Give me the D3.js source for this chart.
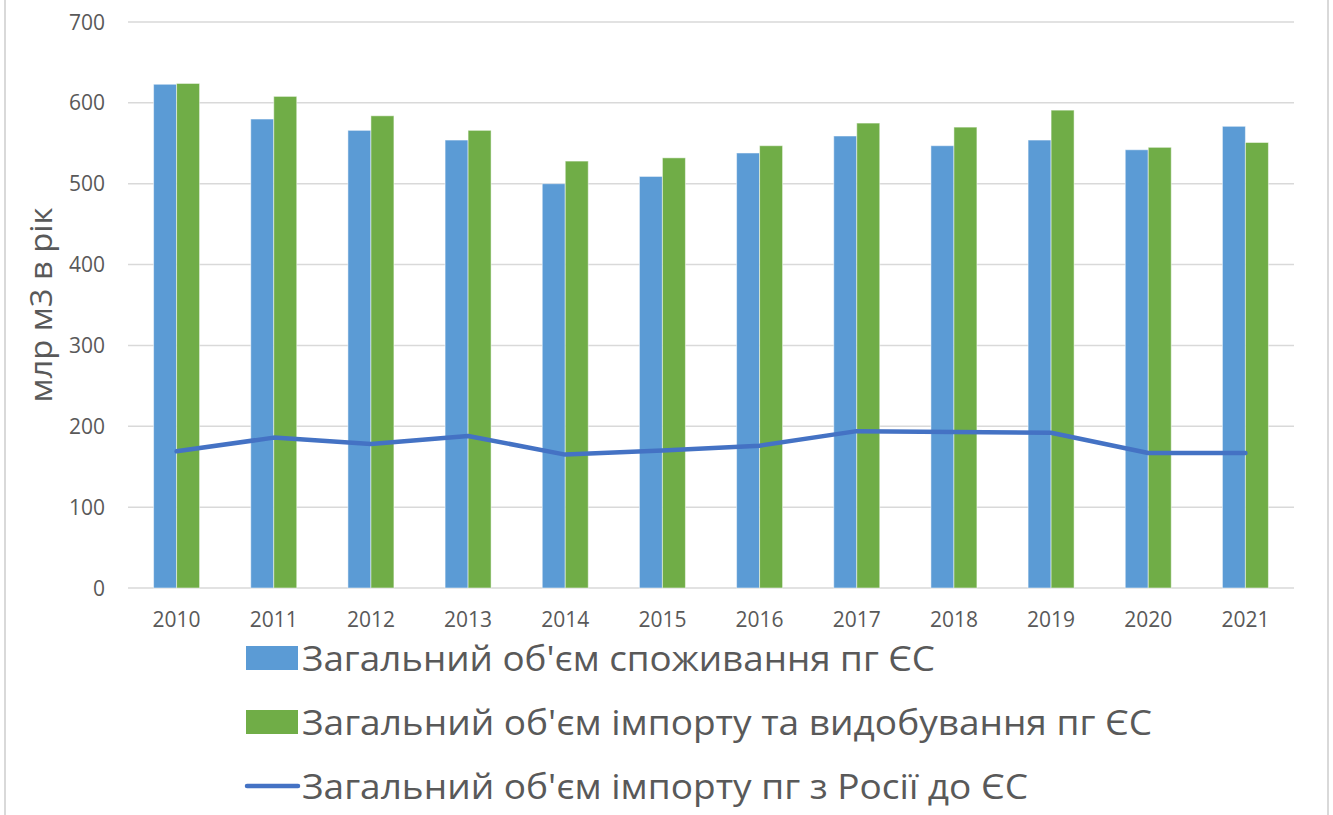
<!DOCTYPE html>
<html><head><meta charset="utf-8">
<script src="https://cdn.jsdelivr.net/npm/d3@7/dist/d3.min.js"></script>
<style>body{margin:0;background:#fff;}svg{display:block;}</style>
</head><body>
<svg id="c" width="1333" height="815"></svg>
<script>
const years = ["2010","2011","2012","2013","2014","2015","2016","2017","2018","2019","2020","2021"];
const consumption = [623, 580, 566, 554, 500, 509, 538, 559, 547, 554, 542, 571];
const importProd = [624, 608, 584, 566, 528, 532, 547, 575, 570, 591, 545, 551];
const russiaImport = [169, 186, 178, 188, 165, 170, 176, 194, 193, 192, 167, 167];
const yTicks = [0, 100, 200, 300, 400, 500, 600, 700];
const seriesNames = ["Загальний об'єм споживання пг ЄС", "Загальний об'єм імпорту та видобування пг ЄС", "Загальний об'єм імпорту пг з Росії до ЄС"];
const yTitle = "млр м3 в рік";

const svg = d3.select("#c");
const font = "'Open Sans', sans-serif";
const L = 128, R = 1294, T = 22, B = 588;

// frame
svg.append("line").attr("x1",5).attr("x2",5).attr("y1",0).attr("y2",815).attr("stroke","#d9d9d9").attr("stroke-width",2);
svg.append("line").attr("x1",1328).attr("x2",1328).attr("y1",0).attr("y2",815).attr("stroke","#d9d9d9").attr("stroke-width",2);

const x = d3.scaleBand().domain(years).range([L, R]).paddingInner(0).paddingOuter(0);
const y = d3.scaleLinear().domain([0, 700]).range([B, T]);
const groupW = 46;
const xs = d3.scaleBand().domain([0,1]).range([0, groupW]);

// grid
svg.append("g").selectAll("line").data(yTicks).join("line")
  .attr("x1", L).attr("x2", R).attr("y1", d => y(d)).attr("y2", d => y(d))
  .attr("stroke", "#d9d9d9").attr("stroke-width", 1.5);

// y tick labels
svg.append("g").selectAll("text").data(yTicks).join("text")
  .attr("x", 105).attr("y", d => y(d)).attr("dy", "0.36em")
  .attr("text-anchor", "end").attr("font-family", font).attr("font-size", 21).attr("fill", "#595959")
  .text(d => d);

// x labels
svg.append("g").selectAll("text").data(years).join("text")
  .attr("x", d => x(d) + x.bandwidth()/2).attr("y", 619).attr("dy", "0.36em")
  .attr("text-anchor", "middle").attr("font-family", font).attr("font-size", 21).attr("fill", "#595959")
  .text(d => d);

// bars
const series = [consumption, importProd];
const colors = ["#5B9BD5", "#70AD47"];
series.forEach((vals, si) => {
  svg.append("g").selectAll("rect").data(vals).join("rect")
    .attr("x", (d, i) => x(years[i]) + x.bandwidth()/2 - groupW/2 + xs(si))
    .attr("y", d => y(d))
    .attr("width", xs.bandwidth())
    .attr("height", d => y(0) - y(d))
    .attr("fill", colors[si])
    .attr("stroke", "#ffffff").attr("stroke-opacity", 0.5).attr("stroke-width", 1);
});

// line
const line = d3.line().x((d, i) => x(years[i]) + x.bandwidth()/2).y(d => y(d));
svg.append("path").datum(russiaImport).attr("d", line)
  .attr("fill", "none").attr("stroke", "#4472C4").attr("stroke-width", 4.5)
  .attr("stroke-linecap", "round").attr("stroke-linejoin", "round");

// y title
svg.append("text").attr("transform", "translate(52,305) rotate(-90)")
  .attr("text-anchor", "middle").attr("font-family", font).attr("font-size", 31).attr("fill", "#595959")
  .attr("textLength", 195).attr("lengthAdjust", "spacingAndGlyphs")
  .text(yTitle);

// legend
const legY = [658, 722, 786];
const legW = [633, 850, 726];
seriesNames.forEach((name, i) => {
  if (i < 2) {
    svg.append("rect").attr("x", 246).attr("y", legY[i] - 12).attr("width", 52).attr("height", 24).attr("fill", colors[i]);
  } else {
    svg.append("line").attr("x1", 247).attr("x2", 298).attr("y1", legY[i]).attr("y2", legY[i])
      .attr("stroke", "#4472C4").attr("stroke-width", 4.5).attr("stroke-linecap", "round");
  }
  svg.append("text").attr("x", 302).attr("y", legY[i]).attr("dy", "0.36em")
    .attr("font-family", font).attr("font-size", 35).attr("fill", "#595959")
    .attr("textLength", legW[i]).attr("lengthAdjust", "spacingAndGlyphs")
    .text(name);
});
</script>
</body></html>
